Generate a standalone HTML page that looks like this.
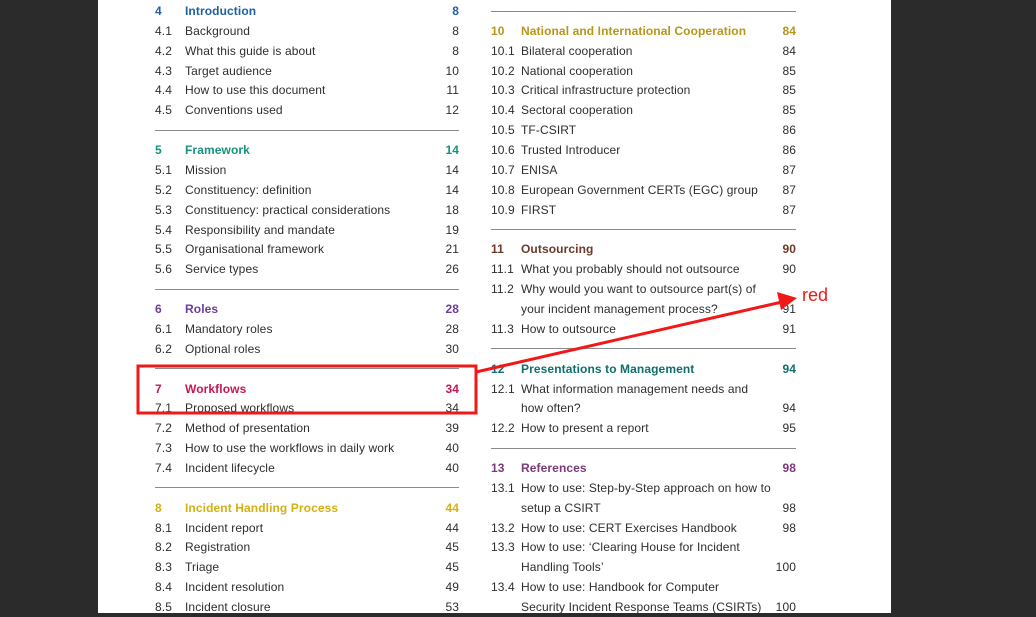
<!DOCTYPE html>
<html><head><meta charset="utf-8"><style>
body{margin:0;width:1036px;height:613px;background:#2b2b2b;position:relative;overflow:hidden;font-family:"Liberation Sans",sans-serif;}
#page{position:absolute;left:98px;top:0;width:793px;height:613px;background:#fff;}
.r{position:absolute;height:20px;line-height:20px;font-size:12px;color:#2e2e2e;white-space:nowrap;letter-spacing:0.1px;}
.r .n{position:absolute;left:0;}
.r .t{position:absolute;left:30px;}
.r .p{position:absolute;right:0;}
.h{font-weight:bold;}
.ln{position:absolute;height:1px;background:#8a8a8a;}
</style></head><body><div id="page"></div>
<div id="c"></div>
<svg style="position:absolute;left:0;top:0" width="1036" height="613">
<rect x="138" y="366" width="338" height="47" fill="none" stroke="#f01818" stroke-width="3"/>
<line x1="476" y1="372" x2="782" y2="302" stroke="#f01818" stroke-width="3"/>
<polygon points="797,298 777,292 781,310" fill="#f01818"/>
<text x="802" y="301" font-family="Liberation Sans, sans-serif" font-size="18" fill="#f01818">red</text>
</svg>
<script>
const P=19.87;
function rows(x,list){let h='';list.forEach((it,i)=>{if(it==null)return;const y=11+P*i-10;
if(it==='-'){h+=`<div class="ln" style="left:${x}px;width:${x==155?304:305}px;top:${y+9.5}px"></div>`;return;}
const [n,t,p,c]=it;const st=c?`color:${c}`:'';h+=`<div class="r ${c?'h':''}" style="left:${x}px;width:${x==155?304:305}px;top:${y}px;${st}"><span class="n">${n}</span><span class="t">${t}</span><span class="p">${p}</span></div>`;});return h;}
const L=[["4","Introduction","8","#1f5fa0"],["4.1","Background","8"],["4.2","What this guide is about","8"],["4.3","Target audience","10"],["4.4","How to use this document","11"],["4.5","Conventions used","12"],'-',
["5","Framework","14","#16937f"],["5.1","Mission","14"],["5.2","Constituency: definition","14"],["5.3","Constituency: practical considerations","18"],["5.4","Responsibility and mandate","19"],["5.5","Organisational framework","21"],["5.6","Service types","26"],'-',
["6","Roles","28","#6a3d9a"],["6.1","Mandatory roles","28"],["6.2","Optional roles","30"],'-',
["7","Workflows","34","#c8174f"],["7.1","Proposed workflows","34"],["7.2","Method of presentation","39"],["7.3","How to use the workflows in daily work","40"],["7.4","Incident lifecycle","40"],'-',
["8","Incident Handling Process","44","#d4b011"],["8.1","Incident report","44"],["8.2","Registration","45"],["8.3","Triage","45"],["8.4","Incident resolution","49"],["8.5","Incident closure","53"]];
const R=['-',["10","National and International Cooperation","84","#b8961a"],["10.1","Bilateral cooperation","84"],["10.2","National cooperation","85"],["10.3","Critical infrastructure protection","85"],["10.4","Sectoral cooperation","85"],["10.5","TF-CSIRT","86"],["10.6","Trusted Introducer","86"],["10.7","ENISA","87"],["10.8","European Government CERTs (EGC) group","87"],["10.9","FIRST","87"],'-',
["11","Outsourcing","90","#6b3a2a"],["11.1","What you probably should not outsource","90"],["11.2","Why would you want to outsource part(s) of",""],["","your incident management process?","91"],["11.3","How to outsource","91"],'-',
["12","Presentations to Management","94","#0f6e6e"],["12.1","What information management needs and",""],["","how often?","94"],["12.2","How to present a report","95"],'-',
["13","References","98","#7a3a7a"],["13.1","How to use: Step-by-Step approach on how to",""],["","setup a CSIRT","98"],["13.2","How to use: CERT Exercises Handbook","98"],["13.3","How to use: ‘Clearing House for Incident",""],["","Handling Tools’","100"],["13.4","How to use: Handbook for Computer",""],["","Security Incident Response Teams (CSIRTs)","100"]];
document.getElementById('c').innerHTML=rows(155,L)+rows(491,R);
</script>
</body></html>
